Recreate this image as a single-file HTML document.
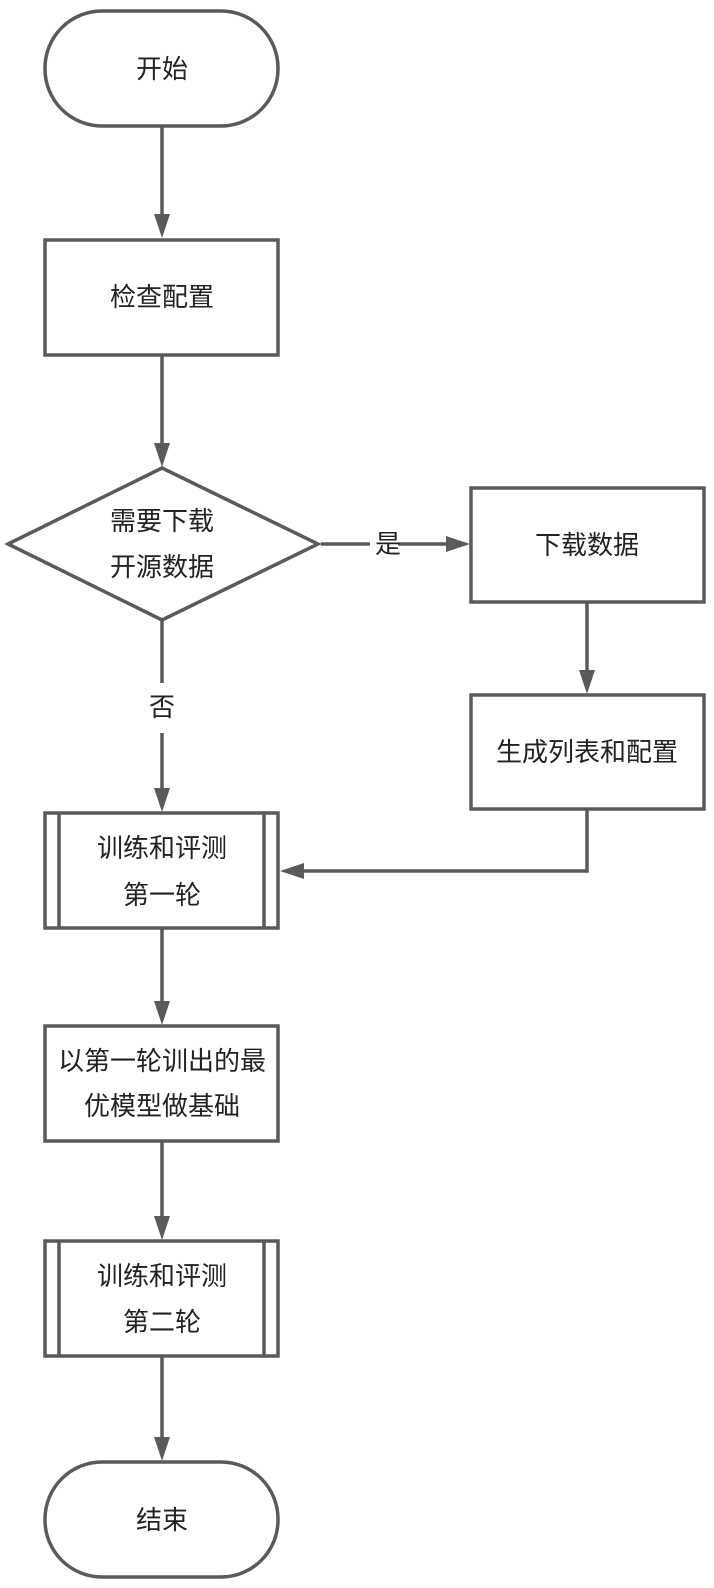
<!DOCTYPE html>
<html><head><meta charset="utf-8"><style>
html,body{margin:0;padding:0;background:#fff;}
svg{display:block;}
text{font-family:"Liberation Sans","Noto Sans CJK SC",sans-serif;font-size:26px;fill:#222;text-anchor:middle;dominant-baseline:central;}
</style></head><body>
<svg width="714" height="1588" viewBox="0 0 714 1588" xmlns="http://www.w3.org/2000/svg">
<defs>
<marker id="a" markerWidth="8" markerHeight="8" refX="7.3" refY="4" orient="auto" markerUnits="userSpaceOnUse" viewBox="0 0 8 8">
</marker>
</defs>
<g fill="none" stroke="#5a5a5a" stroke-width="3.5">
<rect x="45" y="11" width="233" height="115" rx="57" ry="57"/>
<rect x="45" y="240" width="233" height="115"/>
<polygon points="162,468 318,544 162,620 8,544"/>
<rect x="471" y="488" width="233" height="114"/>
<rect x="471" y="695" width="233" height="114"/>
<rect x="45" y="813" width="233" height="115"/>
<line x1="59" y1="813" x2="59" y2="928"/>
<line x1="264" y1="813" x2="264" y2="928"/>
<rect x="45" y="1026" width="233" height="115"/>
<rect x="45" y="1241" width="233" height="115"/>
<line x1="59" y1="1241" x2="59" y2="1356"/>
<line x1="264" y1="1241" x2="264" y2="1356"/>
<rect x="45" y="1462" width="233" height="115" rx="57" ry="57"/>
<!-- connectors -->
<line x1="162" y1="126" x2="162" y2="216"/>
<line x1="162" y1="355" x2="162" y2="445"/>
<line x1="162" y1="620" x2="162" y2="683"/>
<line x1="162" y1="733" x2="162" y2="790"/>
<line x1="162" y1="928" x2="162" y2="1003"/>
<line x1="162" y1="1141" x2="162" y2="1218"/>
<line x1="162" y1="1356" x2="162" y2="1439"/>
<line x1="321" y1="544" x2="370" y2="544"/>
<line x1="398" y1="544" x2="450" y2="544"/>
<line x1="587" y1="602" x2="587" y2="672"/>
<polyline points="587,809 587,871 302,871"/>
</g>
<g fill="#5a5a5a">
<polygon points="154,214 170,214 162,238"/>
<polygon points="154,443 170,443 162,467"/>
<polygon points="154,788 170,788 162,812"/>
<polygon points="154,1001 170,1001 162,1025"/>
<polygon points="154,1216 170,1216 162,1240"/>
<polygon points="154,1437 170,1437 162,1461"/>
<polygon points="579,670 595,670 587,694"/>
<polygon points="446,536 446,552 470,544"/>
<polygon points="304,863 304,879 280,871"/>
</g>
<text x="162" y="69">开始</text>
<text x="162" y="297">检查配置</text>
<text x="162" y="521">需要下载</text>
<text x="162" y="567">开源数据</text>
<text x="388" y="544">是</text>
<text x="162" y="707">否</text>
<text x="587" y="545">下载数据</text>
<text x="587" y="752">生成列表和配置</text>
<text x="162" y="848">训练和评测</text>
<text x="162" y="895">第一轮</text>
<text x="162" y="1061">以第一轮训出的最</text>
<text x="162" y="1106">优模型做基础</text>
<text x="162" y="1276">训练和评测</text>
<text x="162" y="1322">第二轮</text>
<text x="162" y="1520">结束</text>
</svg>
</body></html>
